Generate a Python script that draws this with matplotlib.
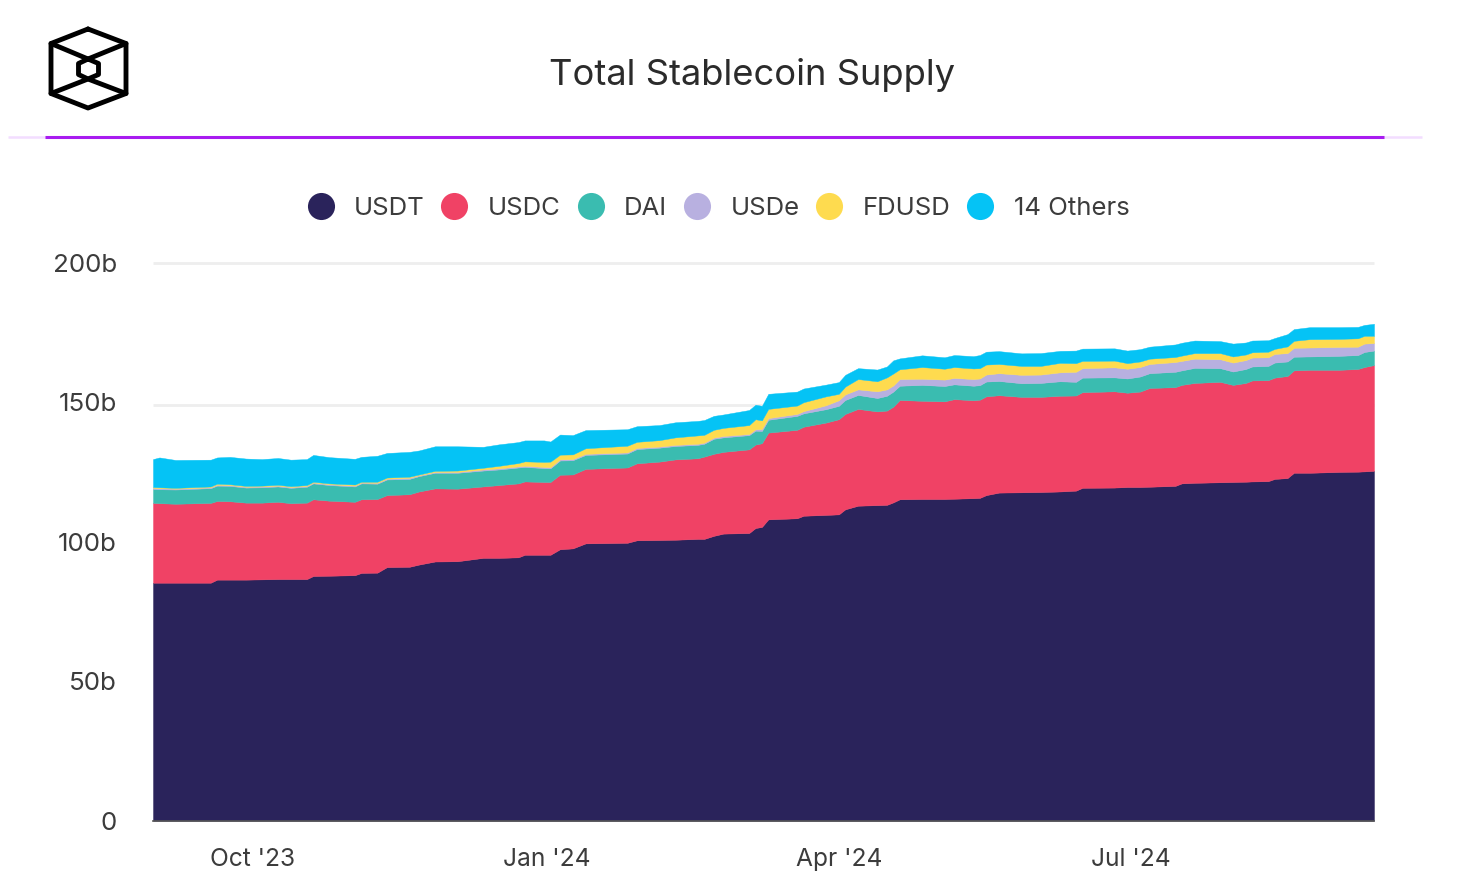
import pandas as pd
import matplotlib
matplotlib.use("Agg")
import matplotlib.pyplot as plt
from matplotlib.lines import Line2D

plt.rcParams["font.family"] = ["Inter", "DejaVu Sans"]

# days since the first sample, supply in billions
start_date = "2023-08-31"
days = [0, 2, 7, 18, 20, 24, 29, 34, 39, 43, 48, 50, 55, 63, 65, 70, 73, 80, 83, 88, 95,
        103, 108, 114, 116, 122, 124, 127, 131, 135, 148, 151, 158, 163, 170, 172, 175, 178,
        186, 188, 190, 192, 201, 203, 210, 214, 216, 220, 226, 229, 231, 233, 240, 247, 250,
        256, 258, 260, 264, 271, 277, 283, 288, 290, 300, 304, 308, 311, 319, 321, 325, 333,
        337, 341, 343, 348, 350, 354, 356, 361, 370, 376, 378, 381]

usdt = [85.3, 85.3, 85.3, 85.3, 86.4, 86.4, 86.4, 86.5, 86.6, 86.6, 86.6, 87.7, 87.8, 88.0, 88.8, 88.9, 90.9, 91.0, 91.8, 92.9, 93.0,
        94.2, 94.2, 94.4, 95.3, 95.3, 95.3, 97.3, 97.6, 99.4, 99.6, 100.5, 100.6, 100.7, 101.0, 101.0, 102.1, 102.9,
        103.1, 104.9, 105.3, 108.0, 108.4, 109.3, 109.6, 109.8, 111.6, 112.9, 113.1, 113.2, 114.1, 115.2, 115.3, 115.3, 115.4,
        115.6, 115.7, 116.7, 117.6, 117.7, 117.8, 118.0, 118.3, 119.3, 119.4, 119.6, 119.6, 119.7, 120.0, 120.9, 121.1, 121.3,
        121.4, 121.5, 121.6, 121.7, 122.5, 122.8, 124.7, 124.7, 125.0, 125.1, 125.2, 125.4]
usdc = [28.6, 28.5, 28.3, 28.6, 28.2, 28.1, 27.6, 27.5, 27.7, 27.2, 27.4, 27.5, 26.9, 26.3, 26.4, 26.4, 25.8, 26.0, 26.2, 26.2, 26.0,
        25.6, 26.1, 26.5, 26.3, 26.1, 26.1, 26.7, 26.5, 26.7, 27.0, 27.6, 28.1, 28.8, 28.9, 29.5, 29.4, 29.3,
        30.0, 29.9, 30.0, 31.1, 31.7, 31.9, 33.1, 34.1, 34.2, 34.7, 33.6, 33.8, 34.3, 35.6, 35.2, 35.0, 35.7,
        35.1, 35.2, 35.4, 34.9, 34.2, 34.1, 34.3, 34.1, 34.3, 34.5, 33.8, 34.2, 35.4, 35.4, 35.3, 35.8, 36.0,
        34.8, 35.4, 36.2, 36.2, 36.3, 36.6, 36.7, 36.9, 36.6, 36.8, 37.4, 37.9]
dai = [5.0, 5.0, 5.1, 5.3, 5.5, 5.5, 5.4, 5.5, 5.5, 5.5, 5.7, 5.7, 5.6, 5.5, 5.7, 5.5, 5.6, 5.5, 5.5, 5.6, 5.7,
       5.7, 5.6, 5.7, 5.2, 5.0, 4.9, 5.1, 5.1, 5.0, 5.0, 5.1, 5.0, 4.8, 4.8, 4.6, 5.4, 5.2,
       5.1, 5.0, 4.4, 4.6, 5.0, 4.8, 4.8, 4.8, 5.0, 5.0, 4.8, 5.3, 5.4, 5.1, 5.7, 5.5, 5.3,
       5.2, 5.2, 5.3, 5.1, 4.9, 5.0, 5.2, 4.9, 5.2, 5.0, 5.1, 5.4, 5.3, 5.5, 5.2, 5.4, 4.9,
       4.8, 5.0, 5.0, 5.1, 5.4, 5.2, 4.9, 4.8, 5.0, 5.0, 5.4, 5.2]
usde = [0.4, 0.4, 0.3, 0.3, 0.3, 0.3, 0.3, 0.3, 0.3, 0.3, 0.3, 0.3, 0.3, 0.3, 0.3, 0.3, 0.3, 0.4, 0.3, 0.3, 0.3,
        0.4, 0.4, 0.4, 0.4, 0.4, 0.4, 0.4, 0.4, 0.4, 0.4, 0.4, 0.4, 0.4, 0.4, 0.4, 0.4, 0.5,
        0.4, 0.5, 0.7, 0.6, 0.7, 0.8, 1.4, 2.0, 2.0, 2.0, 2.4, 2.3, 2.2, 2.4, 2.2, 2.3, 2.3,
        2.4, 2.4, 2.5, 2.8, 3.0, 3.0, 3.2, 3.6, 3.4, 3.6, 3.5, 3.4, 3.3, 3.5, 3.4, 3.3, 3.2,
        3.2, 3.2, 3.2, 3.1, 3.1, 3.0, 3.2, 3.2, 3.2, 3.0, 3.0, 2.7]
fdusd = [0.3, 0.3, 0.3, 0.3, 0.4, 0.3, 0.3, 0.3, 0.3, 0.3, 0.3, 0.3, 0.3, 0.4, 0.3, 0.4, 0.4, 0.4, 0.3, 0.4, 0.5,
         0.6, 0.9, 1.2, 1.6, 1.8, 2.0, 1.7, 1.7, 2.0, 2.4, 2.2, 2.3, 2.7, 3.0, 2.8, 2.8, 2.9,
         3.2, 3.6, 3.1, 3.3, 3.0, 3.2, 3.2, 2.3, 2.8, 3.7, 3.6, 4.3, 4.3, 3.5, 4.2, 3.9, 3.9,
         3.8, 3.7, 3.6, 3.3, 3.2, 3.1, 3.4, 3.1, 2.6, 2.4, 2.0, 2.0, 1.9, 1.8, 1.9, 2.0, 2.2,
         2.2, 2.0, 1.9, 2.0, 1.8, 2.4, 2.5, 3.0, 2.9, 3.0, 2.8, 2.6]
others = [10.0, 10.7, 10.0, 9.6, 9.4, 9.8, 9.8, 9.5, 9.6, 9.5, 9.3, 9.6, 9.4, 9.2, 8.9, 9.3, 8.8, 8.9, 8.6, 8.8, 8.7,
          7.5, 7.7, 7.5, 7.5, 7.7, 7.2, 7.2, 6.9, 6.5, 5.9, 5.6, 5.4, 5.4, 5.2, 5.3, 5.0, 4.8,
          5.4, 5.2, 5.2, 5.4, 5.0, 4.9, 4.2, 4.2, 4.2, 3.9, 4.2, 3.9, 4.7, 3.9, 4.2, 4.1, 4.3,
          4.4, 4.7, 4.6, 4.6, 4.5, 4.6, 4.3, 4.5, 4.4, 4.4, 4.5, 4.4, 4.3, 4.5, 4.6, 4.5, 4.3,
          4.6, 4.3, 4.2, 4.1, 3.9, 4.4, 4.2, 4.3, 4.2, 4.1, 3.9, 4.3]

series_names = ["USDT", "USDC", "DAI", "USDe", "FDUSD", "14 Others"]
series_colors = ["#2A235B", "#F04265", "#3ABCB0", "#B8B0E0", "#FEDB4F", "#05C3F5"]

y_ticks = [0, 50, 100, 150, 200]
y_labels = ["0", "50b", "100b", "150b", "200b"]
grid_levels = [149, 200]  # the 150b rule sits a touch low in the original
x_ticks = ["2023-10-01", "2024-01-01", "2024-04-01", "2024-07-01"]
x_labels = ["Oct '23", "Jan '24", "Apr '24", "Jul '24"]

W, H = 1466, 892
text_color = "#3C3C3C"

dates = pd.Timestamp(start_date) + pd.to_timedelta(days, unit="D")

fig = plt.figure(figsize=(W / 100, H / 100), dpi=100, facecolor="white")
ax = fig.add_axes([153 / W, (H - 820.7) / H, 1221 / W, 558 / H])

for level in grid_levels:
    ax.axhline(level, color="#EEEEEE", lw=2, zorder=0, clip_on=False, solid_capstyle="butt")

ax.stackplot(dates, usdt, usdc, dai, usde, fdusd, others, colors=series_colors,
             edgecolor="face", linewidth=0.3, zorder=2)

ax.set_xlim(dates[0], dates[-1])
ax.set_ylim(0, 200)
ax.patch.set_alpha(0)
for side in ["top", "right", "left"]:
    ax.spines[side].set_visible(False)
ax.spines["bottom"].set_color("#555555")
ax.spines["bottom"].set_linewidth(1.2)
ax.spines["bottom"].set_zorder(5)

ax.set_yticks(y_ticks, y_labels)
ax.set_xticks(pd.to_datetime(x_ticks), x_labels)
ax.tick_params(axis="y", length=0, pad=26, labelsize=18.7, labelcolor=text_color)
ax.tick_params(axis="x", length=0, pad=20, labelsize=17.7, labelcolor=text_color)

handles = [Line2D([], [], ls="", marker="o", ms=19.5, mec="none", mfc=c) for c in series_colors]
fig.legend(handles, series_names, loc="center", bbox_to_anchor=(718.5 / W, (H - 208) / H),
           ncol=6, frameon=False, fontsize=18.5, labelcolor=text_color, borderpad=0,
           handlelength=1, handleheight=0.93, handletextpad=0.8, columnspacing=0.66)

# overlay in pixel coordinates for the header
over = fig.add_axes([0, 0, 1, 1])
over.set_xlim(0, W)
over.set_ylim(H, 0)
over.axis("off")

over.text(752, 75, "Total Stablecoin Supply", ha="center", va="center", fontsize=26.2, color="#2B2B2B")

over.plot([8, 1422], [137, 137], color="#F3DDFF", lw=1.8, solid_capstyle="butt")
over.plot([45, 1384], [137, 137], color="#A81CF0", lw=2.2, solid_capstyle="butt")

# logo
logo_paths = [
    ([88, 126, 126, 88, 51, 51, 88], [29, 43.5, 93.5, 108, 93.5, 43.5, 29]),
    ([88, 98.5, 98.5, 88, 78.5, 78.5, 88], [59, 63.5, 74.5, 79, 74.5, 63.5, 59]),
    ([51, 88, 126], [43.5, 59, 43.5]),
    ([51, 88, 126], [93.5, 79, 93.5]),
]
for xs, ys in logo_paths:
    over.plot(xs, ys, color="black", lw=3.5, solid_joinstyle="round", solid_capstyle="round")

fig.savefig("out.png", dpi=100)
